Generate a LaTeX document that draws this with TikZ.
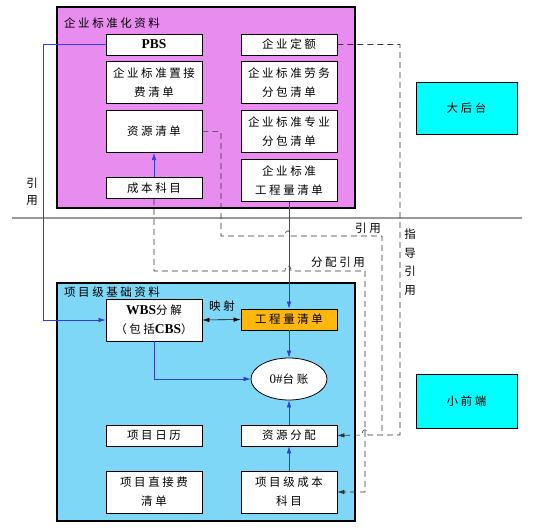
\documentclass[tikz,border=0pt]{standalone}
\usepackage{fontspec}
\setmainfont{Liberation Serif}
\newfontfamily\cjk[LetterSpace=22]{Noto Sans CJK SC}
\usetikzlibrary{positioning,shapes.geometric,arrows.meta}
\definecolor{qyPurple}{HTML}{E88CF0}
\definecolor{xmBlue}{HTML}{7FD7F7}
\definecolor{lnBlue}{HTML}{2F3FD9}
\definecolor{qdOrange}{HTML}{FFB60D}
\definecolor{dtCyan}{HTML}{00FFFF}
\newcommand{\lt}[1]{{\rmfamily\bfseries\fontsize{13.5}{19}\selectfont #1}}

\begin{document}
\begin{tikzpicture}[x=1pt,y=-1pt,>={Latex[length=7pt,width=4.5pt]}]
  \tikzstyle{box}=[draw,thick,fill=white,align=center,minimum width=96pt,minimum height=21pt,inner sep=1pt,font=\cjk\fontsize{11.5}{19}\selectfont]
  \tikzstyle{tall}=[box,minimum height=42pt]
  \tikzstyle{frame}=[draw,line width=1.2pt]
  \tikzstyle{bl}=[lnBlue,semithick]
  \tikzstyle{dl}=[black!80,semithick,dash pattern=on 6pt off 4pt]
  \tikzstyle{lbl}=[inner sep=0pt,align=center,font=\cjk\fontsize{11.5}{17}\selectfont]
  \useasboundingbox (0,0) rectangle (533,530);
  \draw[black!40,line width=1.2pt] (12,218) -- (522,218);
  \draw[frame,fill=qyPurple] (57,7) rectangle (355,208);
  \draw[frame,fill=xmBlue] (57,283) rectangle (355,521);
  \node[lbl,anchor=west] (qyt) at (64,23) {企业标准化资料};
  \node[lbl,anchor=west] (xmt) at (64,292) {项目级基础资料};

  \node[box] (pbs) at (154,44.5) {\lt{PBS}};
  \node[tall,below=6pt of pbs] (zjfq) {企业标准置接\\费清单};
  \node[tall,below=6pt of zjfq] (zyqd) {资源清单};
  \node[box] (cbkm) at (154,188) {成本科目};
  \node[box] (qyde) at (289,44.5) {企业定额};
  \node[tall,below=6pt of qyde] (lwfb) {企业标准劳务\\分包清单};
  \node[tall,below=6pt of lwfb] (zyfb) {企业标准专业\\分包清单};
  \node[tall,below=6pt of zyfb] (bzgcl) {企业标准\\工程量清单};

  \node[tall] (wbs) at (154,320) {\lt{WBS}分解\\（包括\lt{CBS}）};
  \node[box,fill=qdOrange] (gcl) at (289,319.5) {工程量清单};
  \node[box,ellipse,minimum width=76pt,minimum height=42pt] (tz) at (289,379) {{\rmfamily\fontsize{13}{15}\selectfont 0\#}台账};
  \node[box] (xmrl) at (154,435.5) {项目日历};
  \node[box] (zyfp) at (289,435.5) {资源分配};
  \node[tall] (zjf) at (154,492) {项目直接费\\清单};
  \node[tall] (xmcb) at (289,492) {项目级成本\\科目};

  \node[box,fill=dtCyan,semithick,minimum width=101pt,minimum height=52pt] (dht) at (466.5,108) {大后台};
  \node[box,fill=dtCyan,semithick,minimum width=101pt,minimum height=54pt] (xqd) at (466.5,401) {小前端};

  % solid links
  \draw[bl,->] (pbs.west) -- (43,44.5) |- (wbs.west);
  \node[lbl] (yy1) at (32,192) {引\\用};
  \draw[bl,->] (cbkm.north) -- (zyqd.south);
  \draw[bl,->] (bzgcl.south) -- (gcl.north);
  \draw[semithick,<->] (wbs.east) -- (gcl.west);
  \node[lbl] (ys) at (222,306) {映射};
  \draw[bl,->] (wbs.south) |- (tz.west);
  \draw[bl,->] (gcl.south) -- (tz.north);
  \draw[bl,->] (zyfp.north) -- (tz.south);
  \draw[bl,->] (xmcb.north) -- (zyfp.south);

  % dashed links
  \draw[dl] (zyqd.east) -| (221,236) -- (285,236) .. controls (285,229) and (291,229) .. (291,236) -- (382,236) -- (382,435);
  \node[lbl] (yy2) at (368,228) {引用};
  \draw[dl,->] (qyde.east) -| (400,435) -- (368,435) .. controls (368,428) and (362,428) .. (362,435) -- (zyfp.east);
  \node[lbl,font=\cjk\fontsize{11.5}{18.5}\selectfont] (zdyy) at (410,262) {指\\导\\引\\用};
  \draw[dl,->] (cbkm.south) |- (285,271) .. controls (285,264) and (291,264) .. (291,271) -| (365,492) -- (xmcb.east);
  \node[lbl] (fpyy) at (338,262) {分配引用};
\end{tikzpicture}
\end{document}
